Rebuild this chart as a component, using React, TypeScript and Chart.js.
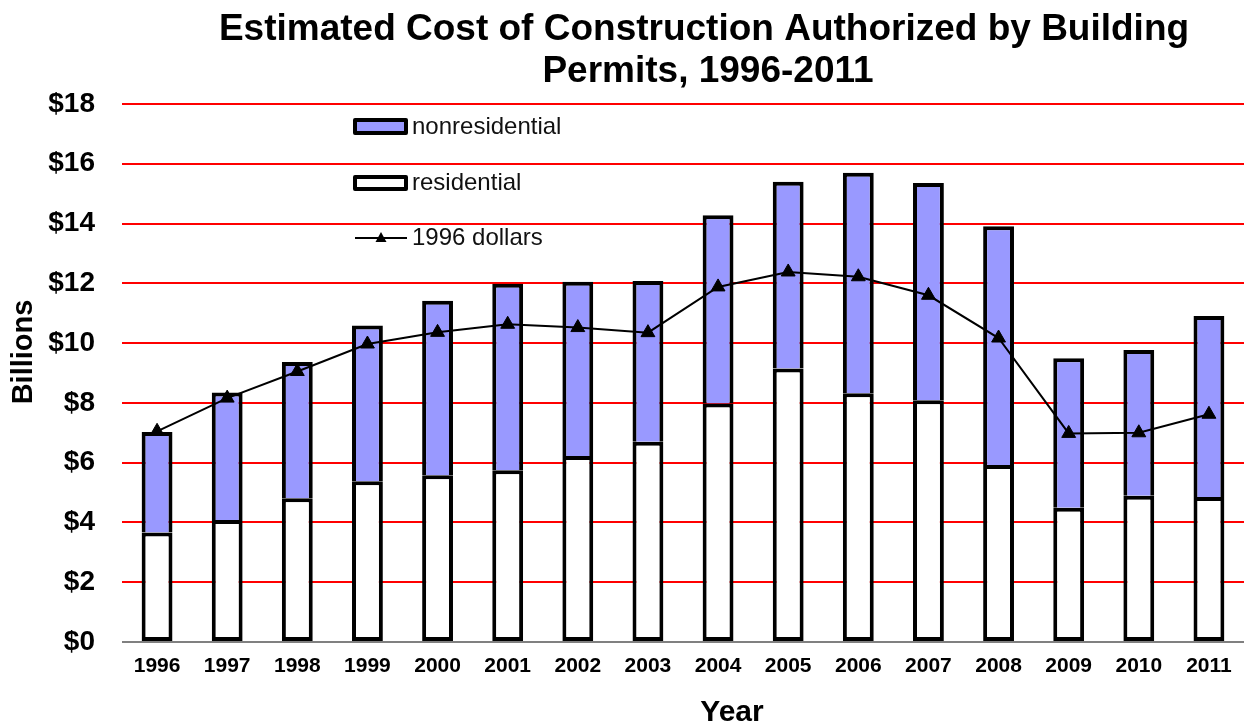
import React, { useEffect, useRef } from 'react';
import { Chart, registerables, LineController } from 'chart.js';

Chart.register(...registerables);

// Line controller that does not reserve extra chart-area padding for its markers
class FlatLineController extends (LineController as any) {
  static id = 'flatLine';
  static defaults = (LineController as any).defaults;
  static overrides = (LineController as any).overrides;
  getMaxOverflow() {
    return 0;
  }
}
Chart.register(FlatLineController as any);

const years = ['1996', '1997', '1998', '1999', '2000', '2001', '2002', '2003', '2004', '2005', '2006', '2007', '2008', '2009', '2010', '2011'];
const residential = [3.66, 4.08, 4.81, 5.38, 5.58, 5.75, 6.22, 6.70, 7.98, 9.15, 8.32, 8.09, 5.92, 4.49, 4.89, 4.85];
const nonresidential = [3.37, 4.27, 4.56, 5.21, 5.84, 6.24, 5.83, 5.38, 6.30, 6.25, 7.38, 7.27, 7.99, 5.00, 4.88, 6.06];
const dollars1996 = [7.05, 8.16, 9.05, 9.97, 10.36, 10.63, 10.52, 10.35, 11.88, 12.38, 12.22, 11.60, 10.17, 6.98, 7.00, 7.62];
const titleLines = ['Estimated Cost of Construction Authorized by Building', 'Permits, 1996-2011'];
const xTitle = 'Year';
const yTitle = 'Billions';
const legendLabels = ['nonresidential', 'residential', '1996 dollars'];

const FONT = "'Liberation Sans', Arial, Helvetica, sans-serif";
const PURPLE = '#9999FF';

const overlayPlugin = {
  id: 'overlay',
  afterDraw(chart: any) {
    const ctx = chart.ctx as CanvasRenderingContext2D;
    ctx.save();
    ctx.fillStyle = '#000';
    ctx.textAlign = 'center';
    ctx.textBaseline = 'alphabetic';
    ctx.font = `bold 37px ${FONT}`;
    ctx.fillText(titleLines[0], 704, 40);
    ctx.fillText(titleLines[1], 708, 82);

    ctx.font = `bold 30px ${FONT}`;
    ctx.textBaseline = 'middle';
    ctx.fillText(xTitle, 732, 713);

    ctx.save();
    ctx.translate(24, 352);
    ctx.rotate(-Math.PI / 2);
    ctx.font = `bold 29px ${FONT}`;
    ctx.fillText(yTitle, 0, 0);
    ctx.restore();

    // legend
    ctx.lineJoin = 'round';
    ctx.strokeStyle = '#000';
    ctx.lineWidth = 4;
    ctx.fillStyle = PURPLE;
    ctx.beginPath();
    ctx.rect(355, 120, 51, 13);
    ctx.fill();
    ctx.stroke();
    ctx.fillStyle = '#fff';
    ctx.beginPath();
    ctx.rect(355, 177, 51, 12);
    ctx.fill();
    ctx.stroke();

    ctx.lineWidth = 2;
    ctx.beginPath();
    ctx.moveTo(355, 238);
    ctx.lineTo(407, 238);
    ctx.stroke();
    ctx.fillStyle = '#000';
    ctx.beginPath();
    ctx.moveTo(381, 232);
    ctx.lineTo(375.5, 242);
    ctx.lineTo(386.5, 242);
    ctx.closePath();
    ctx.fill();

    ctx.fillStyle = '#111';
    ctx.textAlign = 'left';
    ctx.textBaseline = 'middle';
    ctx.font = `24px ${FONT}`;
    ctx.fillText(legendLabels[0], 412, 127);
    ctx.fillText(legendLabels[1], 412, 183);
    ctx.fillText(legendLabels[2], 412, 238);
    ctx.restore();
  },
};

export default function App() {
  const canvasRef = useRef<HTMLCanvasElement>(null);

  useEffect(() => {
    document.body.style.margin = '0';
    const canvas = canvasRef.current;
    if (!canvas) return;
    const chart = new Chart(canvas, {
      type: 'bar',
      data: {
        labels: years,
        datasets: [
          {
            type: 'flatLine',
            label: legendLabels[2],
            data: dollars1996,
            borderColor: '#000',
            backgroundColor: '#000',
            borderWidth: 2,
            pointStyle: 'triangle',
            pointRadius: 8,
            pointBackgroundColor: '#000',
            pointBorderColor: '#000',
            pointBorderWidth: 1,
            tension: 0,
            fill: false,
            stack: 'line',
            order: 0,
          } as any,
          {
            type: 'bar',
            label: legendLabels[1],
            data: residential,
            backgroundColor: '#fff',
            borderColor: '#000',
            borderWidth: 4,
            borderSkipped: false,
            stack: 'bars',
            order: 1,
          },
          {
            type: 'bar',
            label: legendLabels[0],
            data: nonresidential,
            backgroundColor: PURPLE,
            borderColor: '#000',
            borderWidth: 4,
            borderSkipped: 'start',
            stack: 'bars',
            order: 1,
          },
        ],
      },
      options: {
        responsive: false,
        animation: false,
        devicePixelRatio: 1,
        layout: { padding: { top: 104, left: 0, right: 0, bottom: 0 } },
        datasets: { bar: { barPercentage: 0.44, categoryPercentage: 1 } },
        plugins: {
          legend: { display: false },
          title: { display: false },
          tooltip: { enabled: false },
        },
        scales: {
          x: {
            stacked: true,
            grid: { display: false, drawTicks: false },
            border: { display: false },
            ticks: {
              color: '#000',
              font: { family: FONT, size: 21, weight: 'bold' },
              padding: 12,
              maxRotation: 0,
              autoSkip: false,
            },
            afterFit: (s: any) => {
              s.height = 86;
              s.paddingLeft = 0;
              s.paddingRight = 0;
            },
          },
          y: {
            stacked: true,
            min: 0,
            max: 18,
            ticks: {
              stepSize: 2,
              color: '#000',
              font: { family: FONT, size: 28, weight: 'bold' },
              padding: 27,
              callback: (v: any) => '$' + v,
            },
            grid: {
              drawTicks: false,
              lineWidth: 2,
              color: (c: any) => (c.tick && c.tick.value === 0 ? '#808080' : '#FF0000'),
            },
            border: { display: false },
            afterFit: (s: any) => {
              s.width = 122;
            },
          },
        },
      } as any,
      plugins: [overlayPlugin],
    });
    return () => chart.destroy();
  }, []);

  return (
    <div style={{ position: 'absolute', left: 0, top: 0, width: 1244, height: 728, background: '#fff' }}>
      <canvas ref={canvasRef} width={1244} height={728} />
    </div>
  );
}
